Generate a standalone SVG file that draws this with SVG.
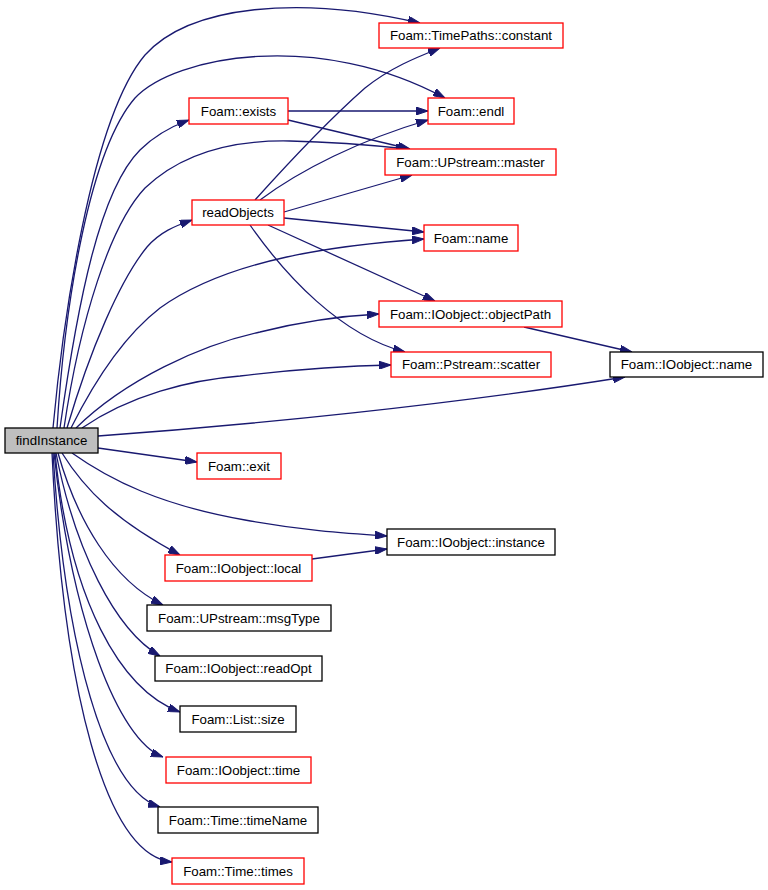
<svg xmlns="http://www.w3.org/2000/svg" width="768" height="890" viewBox="0 0 768 890">
<style>
.n rect{fill:#ffffff;stroke:#ff0000;stroke-width:1.3}
.n.b rect{stroke:#000000}
.n.g rect{fill:#bfbfbf;stroke:#000000}
.n text{font-family:"Liberation Sans",Arial,sans-serif;font-size:13.3px;fill:#000000;text-anchor:middle}
.e path{fill:none;stroke:#191970;stroke-width:1.3;marker-end:url(#ah)}
</style>
<defs>
<marker id="ah" markerUnits="userSpaceOnUse" viewBox="0 0 12 8" refX="12" refY="4" markerWidth="12" markerHeight="8" orient="auto">
<path d="M0,0 L12,4 L0,8 Z" fill="#191970" stroke="#191970" stroke-width="1"/>
</marker>
</defs>
<rect width="768" height="890" fill="#ffffff"/>
<g id="edges" class="e">
<path d="M53,428 C62,330 90,120 145,55 C190,5 300,-5 420,23"/>
<path d="M57,428 C65,300 90,150 135,98 C175,55 320,30 445,98"/>
<path d="M60,428 C78,300 100,190 140,150 C155,135 170,127 189,120"/>
<path d="M64,428 C80,320 110,225 145,188 C185,150 240,140 290,141 C340,142 380,146 408,149"/>
<path d="M67,428 C90,350 120,280 147,247 C160,232 175,226 192,220"/>
<path d="M71,428 C95,380 125,335 160,308 C230,258 340,245 424,239"/>
<path d="M76,428 C125,380 200,345 260,332 C300,322 340,316 379,314"/>
<path d="M82,428 C130,395 190,380 240,376 C290,370 340,366 391,365"/>
<path d="M98,436 C250,425 450,405 625,377"/>
<path d="M98,448 L197,462"/>
<path d="M72,453 C110,480 160,505 245,520 C300,530 340,533 387,536"/>
<path d="M62,453 C85,490 115,520 180,555"/>
<path d="M58,453 C77,520 112,580 163,605"/>
<path d="M56,453 C75,550 115,630 160,656"/>
<path d="M55,453 C70,600 120,690 180,712"/>
<path d="M54,453 C72,620 118,740 163,757"/>
<path d="M53,453 C65,650 105,790 160,807"/>
<path d="M52,453 C63,690 105,855 172,862"/>
<path d="M255,200 C300,150 340,110 365,88 C390,68 415,58 440,48"/>
<path d="M260,200 C300,170 360,140 428,120"/>
<path d="M284,212 L412,175"/>
<path d="M284,218 L424,232"/>
<path d="M268,225 L435,301"/>
<path d="M250,225 C285,275 340,335 405,352"/>
<path d="M288,111 L428,111"/>
<path d="M288,120 L410,149"/>
<path d="M524,327 L632,352"/>
<path d="M312,559 L387,549"/>
</g>
<g id="findInstance" class="n g"><rect x="5" y="428" width="93" height="25"/><text x="51.5" y="445">findInstance</text></g>
<g id="constant" class="n"><rect x="379" y="23" width="184" height="25"/><text x="471" y="40">Foam::TimePaths::constant</text></g>
<g id="endl" class="n"><rect x="428" y="98" width="86" height="26"/><text x="471" y="115.5">Foam::endl</text></g>
<g id="exists" class="n"><rect x="189" y="98" width="99" height="26"/><text x="238.5" y="115.5">Foam::exists</text></g>
<g id="master" class="n"><rect x="385" y="149" width="171" height="26"/><text x="470.5" y="166.5">Foam::UPstream::master</text></g>
<g id="readObjects" class="n"><rect x="192" y="200" width="92" height="25"/><text x="238" y="217">readObjects</text></g>
<g id="name" class="n"><rect x="424" y="225" width="94" height="26"/><text x="471" y="242.5">Foam::name</text></g>
<g id="objectPath" class="n"><rect x="379" y="301" width="183" height="26"/><text x="470.5" y="318.5">Foam::IOobject::objectPath</text></g>
<g id="scatter" class="n"><rect x="391" y="352" width="160" height="25"/><text x="471" y="369">Foam::Pstream::scatter</text></g>
<g id="ioname" class="n b"><rect x="610" y="352" width="153" height="25"/><text x="686.5" y="369">Foam::IOobject::name</text></g>
<g id="exit" class="n"><rect x="197" y="453" width="84" height="26"/><text x="239" y="470.5">Foam::exit</text></g>
<g id="instance" class="n b"><rect x="387" y="529" width="168" height="26"/><text x="471" y="546.5">Foam::IOobject::instance</text></g>
<g id="local" class="n"><rect x="165" y="555" width="147" height="26"/><text x="238.5" y="572.5">Foam::IOobject::local</text></g>
<g id="msgType" class="n b"><rect x="147" y="605" width="184" height="26"/><text x="239" y="622.5">Foam::UPstream::msgType</text></g>
<g id="readOpt" class="n b"><rect x="155" y="656" width="167" height="25"/><text x="238.5" y="673">Foam::IOobject::readOpt</text></g>
<g id="size" class="n b"><rect x="180" y="706" width="116" height="26"/><text x="238" y="723.5">Foam::List::size</text></g>
<g id="time" class="n"><rect x="166" y="757" width="145" height="26"/><text x="238.5" y="774.5">Foam::IOobject::time</text></g>
<g id="timeName" class="n b"><rect x="158" y="807" width="160" height="26"/><text x="238" y="824.5">Foam::Time::timeName</text></g>
<g id="times" class="n"><rect x="172" y="858" width="132" height="26"/><text x="238" y="875.5">Foam::Time::times</text></g>
</svg>
